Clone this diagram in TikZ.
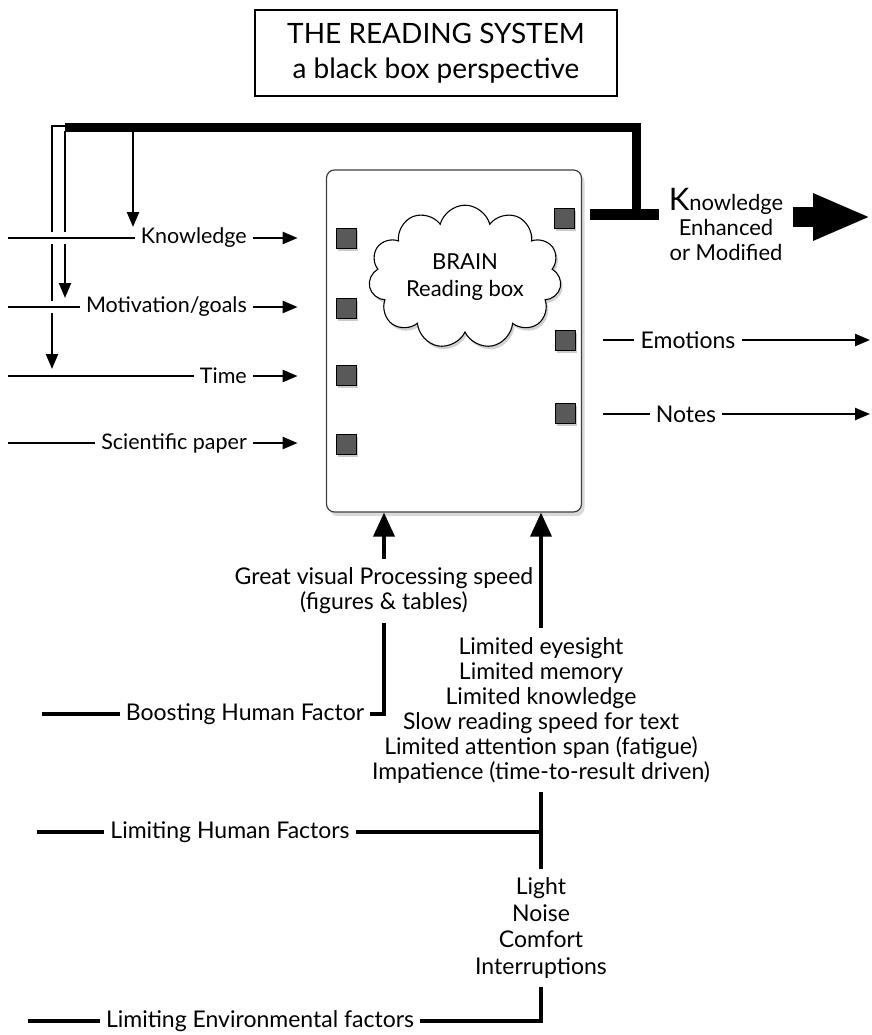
\documentclass[tikz,border=0pt]{standalone}
\usepackage{fontspec}
\setmainfont{Lato}
\usetikzlibrary{arrows.meta, positioning, shapes.symbols, shadows}

\begin{document}
\begin{tikzpicture}[
    x=1pt, y=-1pt,
    lbl/.style={font=\fontsize{23}{25}\selectfont, inner sep=6pt},
    inp/.style={lbl, font=\fontsize{21.5}{25}\selectfont, anchor=east},
    port/.style={draw, line width=0.8pt, fill=black!65, minimum size=20pt, inner sep=0pt,
        drop shadow={opacity=0.4, shadow xshift=2pt, shadow yshift=-3pt}},
    wire/.style={line width=2.4pt},
    heavy/.style={line width=3.6pt},
    hop/.style={preaction={draw=white, line width=12pt}},
    up/.style={-{Triangle[length=24pt, width=21pt]}},
    >={Triangle[length=15pt, width=12pt]}
  ]
  \useasboundingbox (0,0) rectangle (871,1035);

  % Title
  \node[draw, line width=1.3pt, minimum width=362pt, minimum height=86pt, align=center,
        font=\fontsize{28}{35}\selectfont] (title) at (436,53) {THE READING SYSTEM\\a black box perspective};

  % Reading box with the brain inside
  \node[draw=black!75, line width=1.2pt, rounded corners=8pt, fill=white, minimum width=255pt, minimum height=342pt,
        drop shadow={opacity=0.3, shadow xshift=3pt, shadow yshift=-4pt}] (box) at (454,341) {};
  \node[cloud, cloud puffs=11, aspect=1.6, draw, line width=1.1pt, fill=white, minimum width=188pt, minimum height=122pt,
        align=center, font=\fontsize{22}{27}\selectfont,
        drop shadow={opacity=0.35, shadow xshift=2pt, shadow yshift=-3pt}] (brain) at (465,277) {BRAIN\\Reading box};

  % Ports: inputs left, outputs right
  \node[port] (pK) at (346,238) {};
  \node[port] (pM) at (346,308) {};
  \node[port] (pT) at (346,375) {};
  \node[port] (pS) at (346,444) {};
  \node[port] (pO) at (564,218) {};
  \node[port] (pE) at (565,340) {};
  \node[port] (pN) at (565,413) {};

  % Input labels
  \node[inp] (knw) at (253,238) {Knowledge};
  \node[inp] (mot) at (253,307) {Motivation/goals};
  \node[inp] (tim) at (253,376) {Time};
  \node[inp] (sci) at (253,443) {Scientific paper};
  \coordinate (knwL) at (8,238);
  \coordinate (motL) at (8,307);
  \coordinate (timL) at (8,376);
  \coordinate (sciL) at (8,443);

  % Feedback from the output back to the inputs
  \coordinate (tee) at (636,214);
  \coordinate (fbTop) at (636,128);
  \coordinate (fbA) at (52,126);
  \coordinate (fbB) at (65,131);
  \coordinate (fbC) at (133,131);
  \draw[line width=9pt] (tee) -- (fbTop) -- (fbB |- fbTop);
  \draw[wire, ->, shorten >=7pt] (fbA -| fbTop) -- (fbA) -- (fbA |- tim);
  \draw[wire, ->, shorten >=9pt] (fbB) -- (fbB |- mot);
  \draw[wire, ->, shorten >=11pt] (fbC) -- (fbC |- knw);

  % Input lines (hop over the feedback lines)
  \draw[wire, hop] (knwL) -- (knw.west);
  \draw[wire, hop] (motL) -- (mot.west);
  \draw[wire] (timL) -- (tim.west);
  \draw[wire] (sciL) -- (sci.west);
  \draw[wire, ->, shorten >=38pt] (knw.east) -- (knw.east -| pK.west);
  \draw[wire, ->, shorten >=38pt] (mot.east) -- (mot.east -| pM.west);
  \draw[wire, ->, shorten >=38pt] (tim.east) -- (tim.east -| pT.west);
  \draw[wire, ->, shorten >=38pt] (sci.east) -- (sci.east -| pS.west);

  % Main output
  \coordinate (tbarL) at (590,214);
  \coordinate (tbarR) at (659,214);
  \draw[line width=11pt] (tbarL) -- (tbarR);
  \node[align=center, font=\fontsize{22}{25}\selectfont] (kem) at (726,224)
      {{\fontsize{31}{25}\selectfont K}nowledge\\Enhanced\\or Modified};
  \coordinate (kemEnd) at (871,217);
  \draw[line width=20pt, -{Triangle[length=58pt, width=43pt]}, shorten <=6pt] (kem.east |- kemEnd) -- (kemEnd);

  % Other outputs
  \node[lbl] (emo) at (688,340) {Emotions};
  \node[lbl] (nts) at (686,414) {Notes};
  \coordinate (emoR) at (870,340);
  \coordinate (ntsR) at (870,414);
  \draw[wire, shorten <=28pt] (pE.east |- emo) -- (emo.west);
  \draw[wire, ->] (emo.east) -- (emoR);
  \draw[wire, shorten <=28pt] (pN.east |- nts) -- (nts.west);
  \draw[wire, ->] (nts.east) -- (ntsR);

  % Human factors
  \node[lbl, align=center, inner sep=9pt] (gvp) at (384,591) {Great visual Processing speed\\(figures \& tables)};
  \draw[heavy, up] (gvp.north) -- (gvp.north |- box.south);
  \node[lbl] (boost) at (245,714) {Boosting Human Factor};
  \coordinate (boostL) at (42,714);
  \draw[heavy] (boostL) -- (boost.west);
  \draw[heavy] (boost.east) -| (gvp.south);

  \node[lbl, align=center, inner sep=9pt] (lim) at (541,710) {Limited eyesight\\Limited memory\\Limited knowledge\\Slow reading speed for text\\Limited attention span (fatigue)\\Impatience (time-to-result driven)};
  \draw[heavy, up] (lim.north) -- (lim.north |- box.south);
  \node[lbl, align=center, inner sep=9pt, font=\fontsize{23}{26.5}\selectfont] (env) at (541,928) {Light\\Noise\\Comfort\\Interruptions};
  \draw[heavy] (lim.south) -- (env.north);
  \node[lbl] (lhf) at (230,832) {Limiting Human Factors};
  \coordinate (lhfL) at (37,832);
  \draw[heavy] (lhfL) -- (lhf.west);
  \draw[heavy] (lhf.east) -- (lhf.east -| lim.south);
  \node[lbl] (lef) at (260,1021) {Limiting Environmental factors};
  \coordinate (lefL) at (28,1021);
  \draw[heavy] (lefL) -- (lef.west);
  \draw[heavy] (lef.east) -| (env.south);
\end{tikzpicture}
\end{document}
